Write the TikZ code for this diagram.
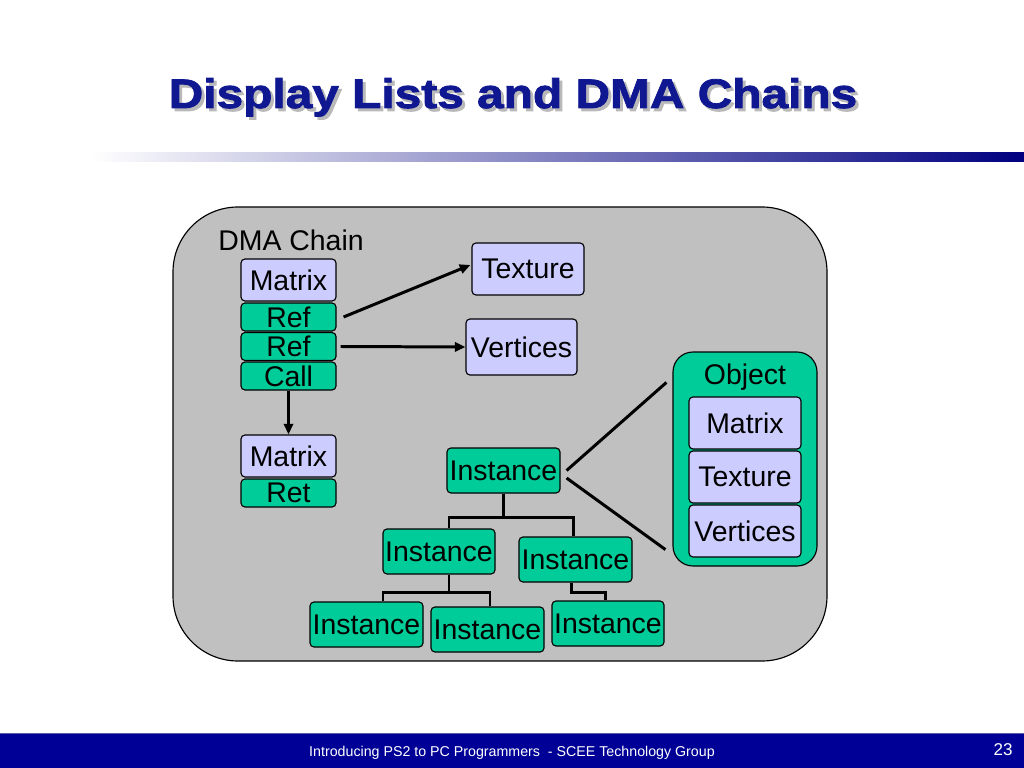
\documentclass[tikz,border=0pt]{standalone}
\usepackage{fontspec}
\setmainfont{Liberation Sans}
\newfontfamily\titlefont[BoldFeatures={FakeStretch=1.16,FakeBold=2}]{Liberation Sans}
\usetikzlibrary{arrows.meta}

\definecolor{slidegray}{RGB}{192,192,192}
\definecolor{instgreen}{RGB}{0,204,153}
\definecolor{datalav}{RGB}{204,204,255}
\definecolor{titleblue}{RGB}{16,24,145}
\definecolor{barblue}{RGB}{0,0,150}
\definecolor{rulenavy}{RGB}{0,0,128}

\newcommand\px{0.703125pt}
\newcommand\shadowed[1]{\makebox[0pt][l]{\hspace{2.1pt}\raisebox{-2.1pt}{\color{gray!55}#1}}#1}

\tikzset{
    boxtext/.style={font=\fontsize{20}{24}\selectfont, inner sep=0pt},
    databox/.style={boxtext, draw, fill=datalav, rounded corners=4*\px, line width=0.8pt},
    tagbox/.style={boxtext, draw, fill=instgreen, rounded corners=4*\px, line width=0.8pt},
    link/.style={line width=2.1pt, -{Triangle[length=7.5pt,width=6.5pt]}},
    tree/.style={line width=2.1pt},
}

\begin{document}
\begin{tikzpicture}[x=\px, y=-\px]
    \useasboundingbox (0,0) rectangle (1024,768);
    % title and rule
    \node[anchor=base, text=titleblue, font=\titlefont\bfseries\fontsize{29}{34}\selectfont] (title) at (513,108) {\shadowed{Display Lists and DMA Chains}};
    \shade[left color=white, right color=rulenavy] (90,153) rectangle (1024,162);

    % panel
    \draw[fill=slidegray, line width=0.8pt, rounded corners=65*\px] (173,207) rectangle (827,661);
    \node[boxtext, anchor=west] (chainlbl) at (218,240) {DMA Chain};

    % chain
    \node[databox, minimum width=95*\px, minimum height=42*\px] (mat1) at (288.5,280) {Matrix};
    \node[tagbox, minimum width=95*\px, minimum height=28*\px] (ref1) at (288.5,317) {Ref};
    \node[tagbox, minimum width=95*\px, minimum height=28*\px] (ref2) at (288.5,346.5) {Ref};
    \node[tagbox, minimum width=95*\px, minimum height=28*\px] (call) at (288.5,376) {Call};
    \node[databox, minimum width=95*\px, minimum height=42*\px] (mat2) at (288.5,456) {Matrix};
    \node[tagbox, minimum width=95*\px, minimum height=28*\px] (ret) at (288.5,493) {Ret};

    \node[databox, minimum width=112*\px, minimum height=52*\px] (tex) at (528,269) {Texture};
    \node[databox, minimum width=111*\px, minimum height=56*\px] (vert) at (521.5,347) {Vertices};

    \draw[link] ([shift={(7,0)}]ref1.east) -- ([shift={(-1,-4)}]tex.west);
    \draw[link] ([shift={(4,0)}]ref2.east) -- (vert.west);
    \draw[link] (call.south) -- (mat2.north);

    % instance tree
    \node[tagbox, minimum width=113*\px, minimum height=45*\px] (inst0) at (503.5,470.5) {Instance};
    \node[tagbox, minimum width=112*\px, minimum height=45*\px] (inst1) at (439,551.5) {Instance};
    \node[tagbox, minimum width=113*\px, minimum height=45*\px] (inst2) at (575.5,559.5) {Instance};
    \node[tagbox, minimum width=113*\px, minimum height=45*\px] (inst3) at (366.5,624.5) {Instance};
    \node[tagbox, minimum width=113*\px, minimum height=45*\px] (inst4) at (487.5,629.5) {Instance};
    \node[tagbox, minimum width=112*\px, minimum height=45*\px] (inst5) at (608,623.5) {Instance};

    \draw[tree] (inst0.south) -- ++(0,24) -| ([shift={(10,0)}]inst1.north);
    \draw[tree] (inst0.south) -- ++(0,24) -| ([shift={(-2.5,0)}]inst2.north);
    \draw[tree] ([shift={(10,0)}]inst1.south) -- ++(0,18) -| ([shift={(16.5,0)}]inst3.north);
    \draw[tree] ([shift={(10,0)}]inst1.south) -- ++(0,18) -| ([shift={(2.5,0)}]inst4.north);
    \draw[tree] ([shift={(-4.5,0)}]inst2.south) -- ++(0,10) -| ([shift={(-3,0)}]inst5.north);

    % object
    \node[draw, fill=instgreen, line width=0.8pt, rounded corners=20*\px, minimum width=144*\px, minimum height=214*\px] (obj) at (745,459) {};
    \node[boxtext] (objlbl) at (745,377) {Object};
    \node[databox, minimum width=112*\px, minimum height=52*\px] (omat) at (745,423) {Matrix};
    \node[databox, minimum width=112*\px, minimum height=52*\px] (otex) at (745,477) {Texture};
    \node[databox, minimum width=112*\px, minimum height=52*\px] (overt) at (745,531) {Vertices};

    \draw[tree] ([shift={(6,0)}]inst0.east) -- ([shift={(-6,31)}]obj.north west);
    \draw[tree] ([shift={(6,7.5)}]inst0.east) -- ([shift={(-7,-17)}]obj.south west);

    % footer
    \fill[barblue] (0,733) rectangle (1024,768);
    \draw[blue!30!gray, line width=0.6pt] (0,733.5) -- (1024,733.5);
    \node[text=white, font=\fontsize{10}{12}\selectfont] (foot) at (512,753) {Introducing PS2 to PC Programmers\ \ - SCEE Technology Group};
    \node[text=white, font=\fontsize{12}{14}\selectfont] (pageno) at (1003,750) {23};
\end{tikzpicture}
\end{document}
